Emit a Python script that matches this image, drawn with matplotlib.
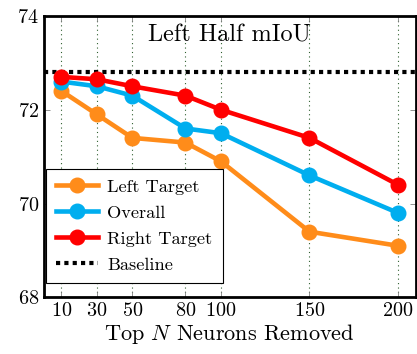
import matplotlib
matplotlib.use("Agg")
import matplotlib.pyplot as plt

plt.rcParams['font.family'] = 'serif'
plt.rcParams['font.serif'] = ['cmr10']
plt.rcParams['mathtext.fontset'] = 'cm'
plt.rcParams['axes.formatter.use_mathtext'] = True

neuronas = [10, 30, 50, 80, 100, 150, 200]
left_target = [72.4, 71.9, 71.4, 71.3, 70.9, 69.4, 69.1]
overall = [72.6, 72.5, 72.3, 71.6, 71.5, 70.6, 69.8]
right_target = [72.7, 72.65, 72.5, 72.3, 72.0, 71.4, 70.4]
baseline = 72.8

fig, ax = plt.subplots(figsize=(4.17, 3.54), dpi=100)
fig.subplots_adjust(left=0.105, right=0.997, top=0.955, bottom=0.16)

ax.plot(neuronas, left_target, color='#ff8c1a', lw=3.3, marker='o', ms=10.5,
        label='Left Target', zorder=3)
ax.plot(neuronas, overall, color='#00aeef', lw=3.3, marker='o', ms=10.5,
        label='Overall', zorder=4)
ax.plot(neuronas, right_target, color='#ff0000', lw=3.3, marker='o', ms=10.5,
        label='Right Target', zorder=5)
ax.axhline(baseline, color='black', lw=3, linestyle=(0, (1, 1)),
           label='Baseline', zorder=2)

ax.set_xlim(0, 210)
ax.set_ylim(68, 74)
ax.set_xticks(neuronas)
ax.set_yticks([68, 70, 72, 74])
ax.tick_params(direction='in', labelsize=14.5, top=True, right=True,
               length=4, width=0.6, color='gray')
ax.grid(True, axis='x', linestyle=(0, (1, 3)), color='#2f5f2f', lw=0.8)
for s in ax.spines.values():
    s.set_linewidth(2)

ax.set_xlabel('Top $N$ Neurons Removed', fontsize=16, labelpad=1)
ax.text(0.5, 0.93, 'Left Half mIoU', transform=ax.transAxes,
        ha='center', va='center', fontsize=17.5)

leg = ax.legend(loc='lower left', bbox_to_anchor=(0.006, 0.052), fontsize=13.2,
                fancybox=False, edgecolor='black', framealpha=1,
                handlelength=2.3, borderaxespad=0, labelspacing=0.55,
                handletextpad=0.5, borderpad=0.55)
leg.get_frame().set_linewidth(0.8)

plt.savefig('out.png', dpi=100)
plt.close()
